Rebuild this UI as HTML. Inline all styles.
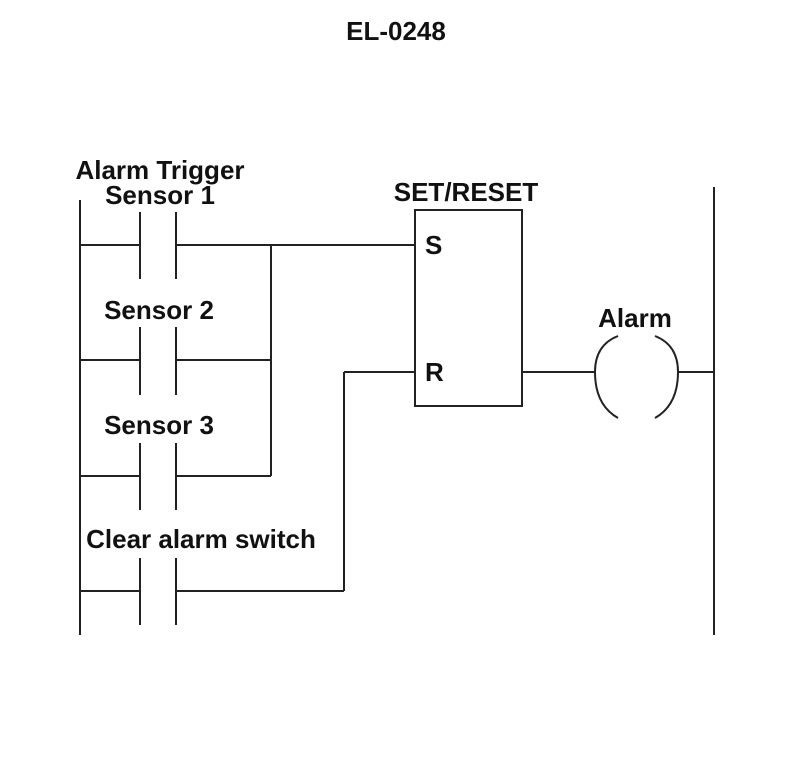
<!DOCTYPE html>
<html><head><style>
body{margin:0;background:#fff;}
svg{display:block;}
text{font-family:"Liberation Sans",Arial,sans-serif;font-weight:bold;font-size:26px;fill:#111;}
</style></head><body>
<svg width="800" height="767" viewBox="0 0 800 767" xmlns="http://www.w3.org/2000/svg">
<g stroke="#222" stroke-width="2" fill="none">
<line x1="80" y1="200" x2="80" y2="635"/>
<line x1="714" y1="187" x2="714" y2="635"/>
<line x1="80" y1="245" x2="140" y2="245"/>
<line x1="176" y1="245" x2="415" y2="245"/>
<line x1="80" y1="360" x2="140" y2="360"/>
<line x1="176" y1="360" x2="271" y2="360"/>
<line x1="80" y1="476" x2="140" y2="476"/>
<line x1="176" y1="476" x2="271" y2="476"/>
<line x1="80" y1="591" x2="140" y2="591"/>
<line x1="176" y1="591" x2="344" y2="591"/>
<line x1="271" y1="245" x2="271" y2="476"/>
<line x1="344" y1="372" x2="344" y2="591"/>
<line x1="344" y1="372" x2="415" y2="372"/>
<line x1="140" y1="212" x2="140" y2="279"/><line x1="176" y1="212" x2="176" y2="279"/>
<line x1="140" y1="327" x2="140" y2="395"/><line x1="176" y1="327" x2="176" y2="395"/>
<line x1="140" y1="443" x2="140" y2="510"/><line x1="176" y1="443" x2="176" y2="510"/>
<line x1="140" y1="558" x2="140" y2="625"/><line x1="176" y1="558" x2="176" y2="625"/>
<rect x="415" y="210" width="107" height="196"/>
<line x1="522" y1="372" x2="595" y2="372"/>
<line x1="678" y1="372" x2="714" y2="372"/>
<path d="M618,336 Q595,345 595,372 Q595,405 618,418"/>
<path d="M655,336 Q678,345 678,372 Q678,405 655,418"/>
</g>
<text x="396" y="40" text-anchor="middle">EL-0248</text>
<text x="160" y="179" text-anchor="middle">Alarm Trigger</text>
<text x="160" y="204" text-anchor="middle">Sensor 1</text>
<text x="159" y="319" text-anchor="middle">Sensor 2</text>
<text x="159" y="434" text-anchor="middle">Sensor 3</text>
<text x="201" y="548" text-anchor="middle">Clear alarm switch</text>
<text x="466" y="201" text-anchor="middle">SET/RESET</text>
<text x="425" y="254">S</text>
<text x="425" y="381">R</text>
<text x="635" y="327" text-anchor="middle">Alarm</text>
</svg>
</body></html>
